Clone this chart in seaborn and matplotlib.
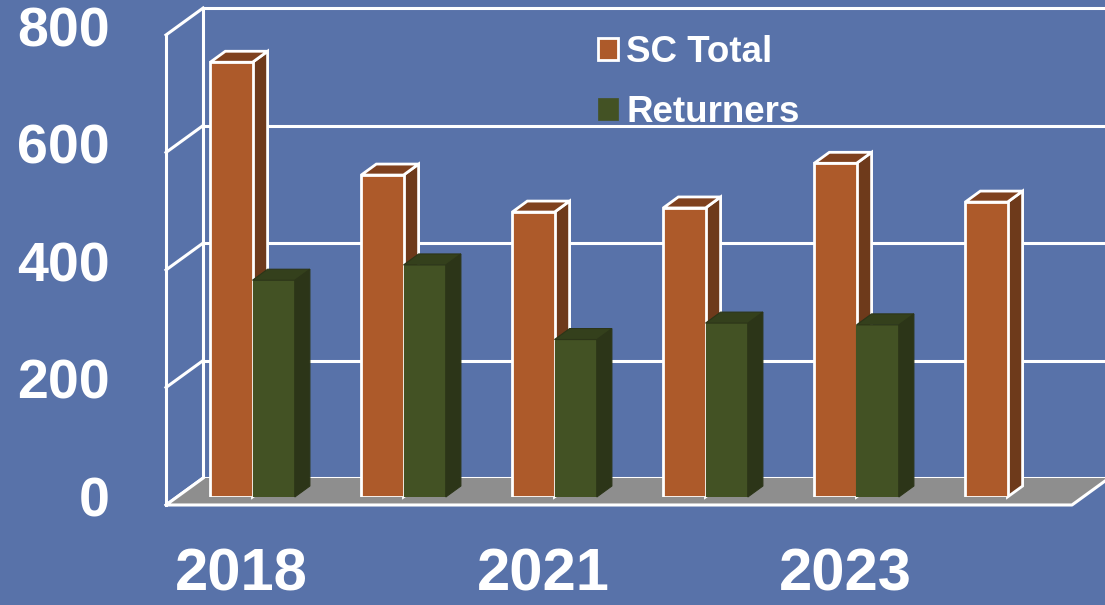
import warnings
warnings.filterwarnings("ignore")

import numpy as np
import pandas as pd
import matplotlib
matplotlib.use("Agg")
import matplotlib.pyplot as plt
from matplotlib.patches import Polygon, Patch
import seaborn as sns

# Data
groups = [0, 1, 2, 3, 4, 5]
x_labels = ["2018", "", "2021", "", "2023", ""]
sc_total = [740, 548, 485, 492, 568, 502]
returners = [369, 395, 268, 296, 293, np.nan]
series_names = ["SC Total", "Returners"]
y_ticks = [0, 200, 400, 600, 800]

# Colours
BG = "#5872A9"
FLOOR = "#8E8E8E"
ORANGE = "#AD5A2A"
ORANGE_SIDE = "#6E3A1B"
ORANGE_TOP = "#7F411E"
GREEN = "#435224"
GREEN_SIDE = "#2C3518"
GREEN_TOP = "#34401C"
FONT = ["Liberation Sans", "Arial", "DejaVu Sans"]

# pseudo-3d offsets in data units (x: group units, y: value units)
BAR_DEPTH = (0.10, 18.7)
BACK_WALL = (0.173, 32.3)
FRONT_WALL = (-0.073, -13.6)

rows = []
for g, a, b in zip(groups, sc_total, returners):
    rows.append({"group": g, "series": series_names[0], "value": a})
    if not np.isnan(b):
        rows.append({"group": g, "series": series_names[1], "value": b})
df = pd.DataFrame(rows)

fig = plt.figure(figsize=(11.05, 6.05), dpi=100, facecolor=BG)
ax = fig.add_axes([177 / 1105, 108 / 605, 906 / 1105, 470 / 605])
ax.set_facecolor("none")
ax.set_xlim(-0.5, 5.5)
ax.set_ylim(0, 800)
for s in ax.spines.values():
    s.set_visible(False)

# back wall grid + left wall
bx, by = BACK_WALL
fx, fy = FRONT_WALL
for v in y_ticks:
    ax.plot([-0.5 + bx, 6.2], [v + by, v + by], color="white", lw=2.2,
            clip_on=False, zorder=0.5, solid_capstyle="butt")
    ax.plot([-0.5 + fx, -0.5 + bx], [v + fy, v + by], color="white", lw=2.2,
            clip_on=False, zorder=0.5)
ax.plot([-0.5 + bx] * 2, [by, 800 + by], color="white", lw=2.2, clip_on=False, zorder=0.5)
ax.plot([-0.5 + fx] * 2, [fy, 800 + fy], color="white", lw=2.2, clip_on=False, zorder=0.5)

# floor
floor_pts = [(-0.5 + fx, fy), (5.5 + fx, fy), (5.5 + bx, by), (-0.5 + bx, by)]
ax.add_patch(Polygon(floor_pts, closed=True, facecolor=FLOOR, edgecolor="none",
                     clip_on=False, zorder=1))
ax.plot([floor_pts[3][0], floor_pts[0][0], floor_pts[1][0], floor_pts[2][0]],
        [floor_pts[3][1], floor_pts[0][1], floor_pts[1][1], floor_pts[2][1]],
        color="white", lw=2.2, clip_on=False, zorder=1.2)

# front faces through seaborn
sns.barplot(data=df, x="group", y="value", hue="series", order=groups,
            hue_order=series_names, palette=[ORANGE, GREEN], saturation=1,
            width=0.56, errorbar=None, legend=False, ax=ax)

ddx, ddy = BAR_DEPTH
styles = [
    (ORANGE_SIDE, ORANGE_TOP, "white", 3, 2.5),
    (GREEN_SIDE, GREEN_TOP, GREEN, 4, 4.2),
]
for cont, (side_c, top_c, edge_c, z_front, z_side) in zip(ax.containers, styles):
    for rect in cont.patches:
        h = rect.get_height()
        if np.isnan(h) or h == 0:
            continue
        x0 = rect.get_x()
        w = rect.get_width()
        rect.set_zorder(z_front)
        rect.set_edgecolor(edge_c)
        rect.set_linewidth(2.0 if edge_c == "white" else 0.8)
        side = [(x0 + w, 0), (x0 + w + ddx, ddy), (x0 + w + ddx, h + ddy), (x0 + w, h)]
        top = [(x0, h), (x0 + w, h), (x0 + w + ddx, h + ddy), (x0 + ddx, h + ddy)]
        lw = 2.0 if edge_c == "white" else 0.8
        ec = edge_c if edge_c == "white" else side_c
        ax.add_patch(Polygon(side, closed=True, facecolor=side_c, edgecolor=ec,
                             lw=lw, zorder=z_side, clip_on=False))
        ax.add_patch(Polygon(top, closed=True, facecolor=top_c, edgecolor=ec,
                             lw=lw, zorder=z_side, clip_on=False))

# axis labels as text, on the front plane
ax.set_xticks([])
ax.set_yticks([])
ax.set_xlabel("")
ax.set_ylabel("")
for v in y_ticks:
    ax.text(-0.944, v - 9, str(v), ha="right", va="center", color="white",
            fontsize=40, fontweight="bold", family=FONT)
for g, lab in zip(groups, x_labels):
    if lab:
        ax.text(g + fx, -133, lab, ha="center", va="center", color="white",
                fontsize=43, fontweight="bold", family=FONT)

handles = [Patch(facecolor=ORANGE, edgecolor="white", lw=2),
           Patch(facecolor=GREEN, edgecolor=GREEN, lw=0.5)]
leg = ax.legend(handles, series_names, loc="upper left",
                bbox_to_anchor=(598 / 1105, 1 - 35 / 605), bbox_transform=fig.transFigure,
                frameon=False, borderpad=0, borderaxespad=0,
                handlelength=0.55, handleheight=0.55, handletextpad=0.22,
                labelspacing=0.68, prop={"family": FONT, "weight": "bold", "size": 26.5})
for t in leg.get_texts():
    t.set_color("white")
leg.set_zorder(10)

fig.savefig("out.png", dpi=100, facecolor=BG)
